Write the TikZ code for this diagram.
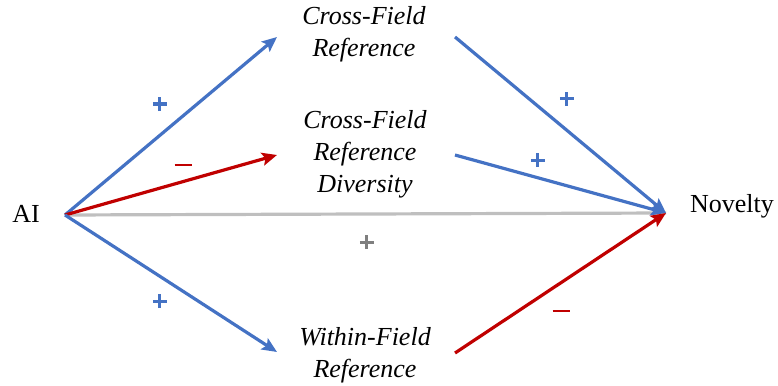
\documentclass[tikz,border=0pt]{standalone}
\usepackage{fontspec}
\setmainfont{Liberation Serif}
\usetikzlibrary{arrows.meta}
\definecolor{abl}{HTML}{4472C4}
\definecolor{ard}{HTML}{C00000}
\definecolor{agl}{HTML}{BFBFBF}
\definecolor{agd}{HTML}{7F7F7F}
\newcommand\plussym{\rlap{\rule[5.5pt]{14pt}{3pt}}\hspace{5.5pt}\rule{3pt}{14pt}\hspace{5.5pt}}
\newcommand\minussym{\rule{17pt}{2.6pt}}
\tikzset{
  lbl/.style={font=\fontsize{26}{32}\selectfont, align=center, inner sep=0pt},
  med/.style={font=\fontsize{26}{32}\selectfont\itshape, align=center, inner sep=0pt},
  arr/.style={line width=3.2pt, -{Stealth[length=15pt,width=13pt,inset=3pt]}},
  sgn/.style={inner sep=0pt},
}
\begin{document}
\begin{tikzpicture}[x=1pt,y=-1pt]
\useasboundingbox (0,0) rectangle (778,385);
\node[lbl] (ai) at (26,214) {AI};
\node[lbl] (nov) at (732,206) {Novelty};
\node[med] (cfr) at (364,34) {Cross-Field\\Reference};
\node[med] (cfrd) at (365,154) {Cross-Field\\Reference\\Diversity};
\node[med] (wfr) at (365,355) {Within-Field\\Reference};
\coordinate (src) at (65,215);
\coordinate (tgt) at (666,213);
\coordinate (cfrL) at (277,37);
\coordinate (cfrR) at (455,37);
\coordinate (cfrdL) at (277,155);
\coordinate (cfrdR) at (455,155);
\coordinate (wfrL) at (277,352);
\coordinate (wfrR) at (455,353);
\draw[line width=3.2pt, agl] (src) -- (tgt);
\draw[arr, abl] (src) -- (cfrL);
\draw[arr, ard] (src) -- (cfrdL);
\draw[arr, abl] (src) -- (wfrL);
\draw[arr, abl] (cfrR) -- (tgt);
\draw[arr, abl] (cfrdR) -- (tgt);
\draw[arr, ard] (wfrR) -- (tgt);
\node[sgn, text=abl] (s1) at (157,104) {\plussym};
\node[sgn, text=ard] (s2) at (183,165) {\minussym};
\node[sgn, text=abl] (s3) at (564,99) {\plussym};
\node[sgn, text=abl] (s4) at (535,160) {\plussym};
\node[sgn, text=agd] (s5) at (364,242) {\plussym};
\node[sgn, text=abl] (s6) at (157,301) {\plussym};
\node[sgn, text=ard] (s7) at (561,311) {\minussym};
\end{tikzpicture}
\end{document}
